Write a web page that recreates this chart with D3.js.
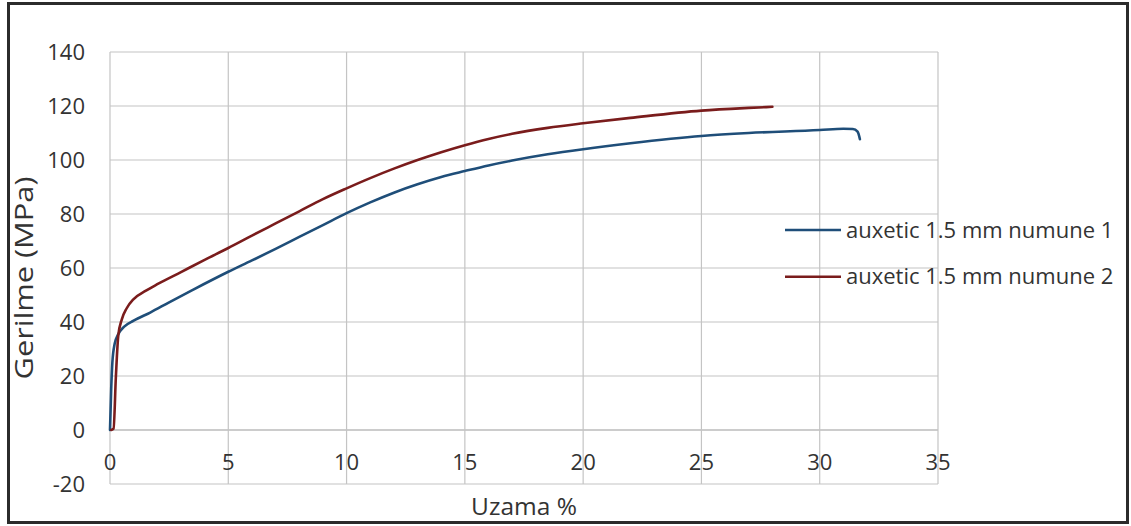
<!DOCTYPE html>
<meta charset="utf-8">
<script src="https://cdn.jsdelivr.net/npm/d3@7"></script>
<style>
  body { margin: 0; background: #fff; }
  text { font-family: "Open Sans", "Noto Sans", sans-serif; fill: #333; }
</style>
<body>
<script>
  // series 1 : auxetic 1.5 mm numune 1 (strain %, stress MPa)
  var strain1 = [0, 0.05, 0.1, 0.2, 0.35, 0.6, 1, 1.7, 2.5, 3.5, 5, 6, 7, 8, 9, 10, 11, 12, 13, 14, 15, 16, 17, 18.5, 20, 22, 25, 27, 30, 31, 31.4, 31.6, 31.7];
  var stress1 = [0, 15, 25, 32, 35.5, 38.3, 40.5, 43.5, 47.3, 51.9, 58.6, 62.8, 67.1, 71.5, 75.9, 80.3, 84.3, 87.9, 91, 93.7, 95.9, 98, 99.8, 102.1, 104, 106.2, 108.9, 110, 111.1, 111.6, 111.5, 110.5, 107.7];

  // series 2 : auxetic 1.5 mm numune 2
  var strain2 = [0.05, 0.15, 0.25, 0.35, 0.5, 0.7, 1, 1.5, 2, 3, 4, 5, 6, 7, 8, 9, 10, 11, 12, 13, 14, 15, 16, 17, 18.5, 20, 22, 25, 27, 28];
  var stress2 = [0, 0.5, 20, 35, 41, 45, 48.5, 51.5, 54, 58.5, 63, 67.4, 72, 76.5, 81, 85.5, 89.5, 93.3, 96.8, 100, 102.9, 105.5, 107.8, 109.7, 111.9, 113.6, 115.6, 118.3, 119.3, 119.7];

  var seriesNames = ["auxetic 1.5 mm numune 1", "auxetic 1.5 mm numune 2"];
  var xTicks = [0, 5, 10, 15, 20, 25, 30, 35];
  var yTicks = [-20, 0, 20, 40, 60, 80, 100, 120, 140];

  var colors = ["#1f4e79", "#7a1c1c"];

  var W = 1131, H = 526;
  var svg = d3.select("body").append("svg")
    .attr("width", W)
    .attr("height", H);

  // outer frame
  svg.append("rect")
    .attr("x", 8.5).attr("y", 3.5)
    .attr("width", 1119).attr("height", 519)
    .attr("fill", "#fff")
    .attr("stroke", "#2b2b2b")
    .attr("stroke-width", 3);

  var x = d3.scaleLinear().domain([0, 35]).range([110, 938]);
  var y = d3.scaleLinear().domain([-20, 140]).range([484, 52]);

  // grid
  svg.append("g").selectAll("line.h")
    .data(yTicks)
    .enter().append("line")
    .attr("x1", x(0)).attr("x2", x(35))
    .attr("y1", function (d) { return y(d); })
    .attr("y2", function (d) { return y(d); })
    .attr("stroke", function (d) { return d === 0 ? "#9a9a9a" : "#c4c4c4"; })
    .attr("stroke-width", 1.2);

  svg.append("g").selectAll("line.v")
    .data(xTicks)
    .enter().append("line")
    .attr("y1", y(-20)).attr("y2", y(140))
    .attr("x1", function (d) { return x(d); })
    .attr("x2", function (d) { return x(d); })
    .attr("stroke", "#c4c4c4")
    .attr("stroke-width", 1.2);

  // y tick labels
  svg.append("g").selectAll("text")
    .data(yTicks)
    .enter().append("text")
    .attr("x", 85)
    .attr("y", function (d) { return y(d); })
    .attr("dy", "0.35em")
    .attr("text-anchor", "end")
    .style("font-size", "22px")
    .text(function (d) { return d; });

  // x tick labels (sit below the zero line)
  svg.append("g").selectAll("text")
    .data(xTicks)
    .enter().append("text")
    .attr("x", function (d) { return x(d); })
    .attr("y", y(0) + 40)
    .attr("text-anchor", "middle")
    .style("font-size", "22px")
    .text(function (d) { return d; });

  // axis titles
  svg.append("text")
    .attr("x", 524)
    .attr("y", 515)
    .attr("text-anchor", "middle")
    .style("font-size", "24.5px")
    .text("Uzama %");

  svg.append("text")
    .attr("transform", "translate(33,278) rotate(-90)")
    .attr("text-anchor", "middle")
    .attr("textLength", 203)
    .attr("lengthAdjust", "spacingAndGlyphs")
    .style("font-size", "25px")
    .text("Gerilme (MPa)");

  // curves
  var line = d3.line()
    .x(function (d) { return x(d[0]); })
    .y(function (d) { return y(d[1]); })
    .curve(d3.curveMonotoneX);

  var data1 = strain1.map(function (v, i) { return [v, stress1[i]]; });
  var data2 = strain2.map(function (v, i) { return [v, stress2[i]]; });

  [data1, data2].forEach(function (d, i) {
    svg.append("path")
      .datum(d)
      .attr("fill", "none")
      .attr("stroke", colors[i])
      .attr("stroke-width", 2.6)
      .attr("stroke-linejoin", "round")
      .attr("stroke-linecap", "round")
      .attr("d", line);
  });

  // legend
  var legend = svg.append("g").selectAll("g")
    .data(seriesNames)
    .enter().append("g")
    .attr("transform", function (d, i) { return "translate(785," + (230 + i * 46.7) + ")"; });

  legend.append("line")
    .attr("x1", 0).attr("x2", 56)
    .attr("stroke", function (d, i) { return colors[i]; })
    .attr("stroke-width", 2.6);

  legend.append("text")
    .attr("x", 61)
    .attr("dy", "0.35em")
    .style("font-size", "22px")
    .text(function (d) { return d; });
</script>
</body>
